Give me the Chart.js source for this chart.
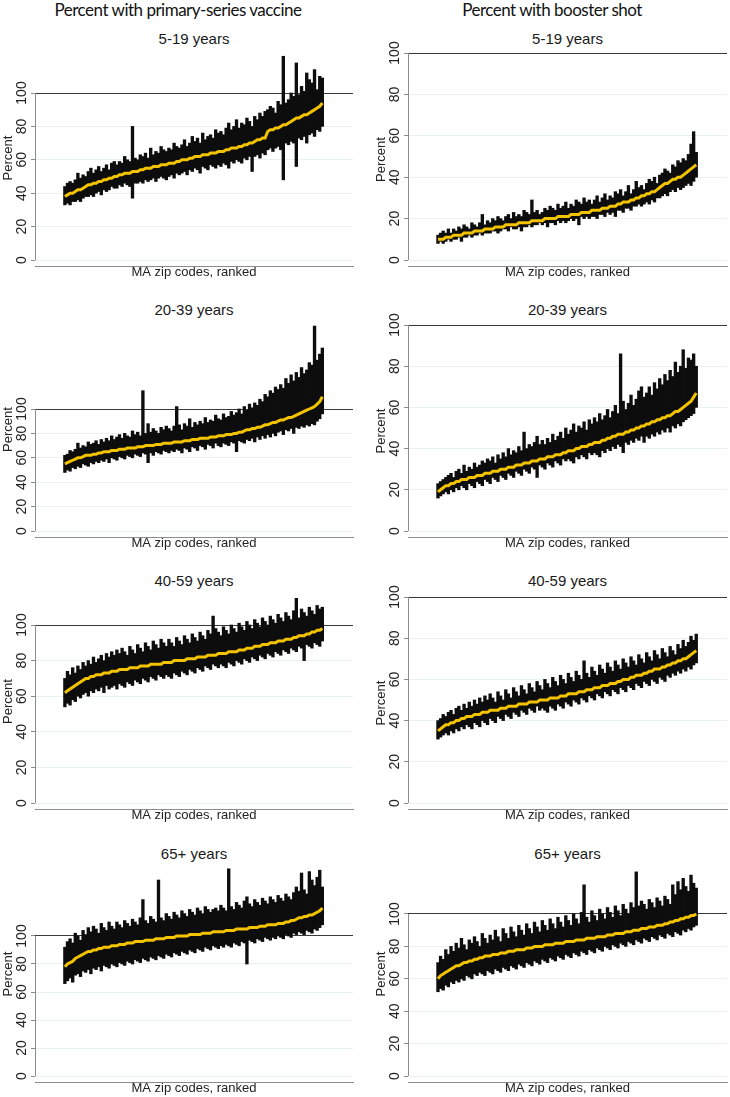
<!DOCTYPE html>
<html lang="en">
<head>
<meta charset="UTF-8" />
<title>MA zip code vaccination, ranked</title>
<script src="https://cdn.jsdelivr.net/npm/chart.js"></script>
<style>
  body { margin: 0; background: #fff; font-family: Arial, "Liberation Sans", Helvetica, sans-serif; }
  #page { position: relative; width: 730px; height: 1097px; overflow: hidden; }
  .colhead { position: absolute; top: 0; text-align: center; font-family: Lato, sans-serif; font-size: 17px; letter-spacing: -0.5px; line-height: 20px; color: #111; white-space: nowrap; }
  .ptitle { position: absolute; font-size: 15px; color: #1a1a1a; transform: translate(-50%, -50%); white-space: nowrap; }
  .panel { position: absolute; }
</style>
</head>
<body>
<div id="page">
  <div class="colhead" style="left:0;width:356px">Percent with primary-series vaccine</div>
  <div class="colhead" style="left:365px;width:374px">Percent with booster shot</div>
</div>
<script>
const ageGroups = ['5-19 years', '20-39 years', '40-59 years', '65+ years'];
const yTicks = [0, 20, 40, 60, 80, 100];

// primary series, 5-19
const p519Est = [38,39,40,40,41,42,42,43,44,45,45,46,46,47,47,48,48,49,49,50,
  50,51,51,52,52,52,53,53,53,54,54,55,55,55,56,56,56,57,57,57,
  58,58,58,59,59,60,60,60,61,61,62,62,62,63,63,63,64,64,64,65,
  65,65,66,66,67,67,67,68,68,69,69,70,70,71,72,72,73,73,77,78,
  78,79,79,80,81,81,82,83,84,85,85,86,87,87,88,89,90,91,92,94];
const p519Lo = [33,34,33,35,35,36,35,37,38,38,39,38,40,41,39,42,41,42,44,43,
  43,45,44,46,45,44,37,46,46,47,46,48,47,48,49,47,49,50,49,48,
  50,51,49,52,51,52,53,51,54,53,55,54,52,56,55,54,57,56,55,57,
  56,58,57,55,59,58,60,59,58,61,60,62,53,62,63,61,64,63,66,67,
  65,67,68,66,48,70,69,71,70,56,73,72,74,70,75,76,74,78,77,80];
const p519Hi = [44,46,47,46,48,52,49,51,50,53,55,52,54,56,53,55,57,54,58,59,
  57,59,58,62,60,59,80,61,60,63,62,64,61,67,63,65,64,68,66,65,
  67,66,70,68,67,69,72,68,70,74,71,73,70,76,72,74,75,73,78,76,
  77,75,79,82,78,80,84,79,82,81,85,83,80,86,84,88,86,89,90,92,
  91,88,95,93,122,94,96,100,98,118,99,104,101,112,108,106,114,102,110,109];

// booster, 5-19
const b519Est = [10,10,10,11,11,11,12,12,12,12,13,13,13,13,14,14,14,14,15,15,
  15,15,16,16,16,16,17,17,17,17,17,18,18,18,18,18,19,19,19,19,
  19,20,20,20,20,20,21,21,21,21,21,22,22,22,22,23,23,23,23,24,
  24,24,24,25,25,25,26,26,26,27,27,28,28,28,29,29,30,30,31,31,
  32,32,33,33,34,35,36,37,37,38,39,39,40,40,41,42,43,44,45,46];
const b519Lo = [8,9,8,9,10,9,10,10,11,9,11,11,12,11,12,12,13,12,13,13,
  13,14,14,13,14,15,15,14,16,15,15,16,14,16,16,17,16,17,17,18,
  17,18,16,18,18,17,19,18,19,18,19,20,19,20,17,21,20,21,20,21,
  21,20,22,22,21,23,22,23,21,24,24,23,25,25,24,26,26,27,26,27,
  28,27,29,28,30,30,31,32,31,33,34,33,35,34,35,36,37,36,38,40];
const b519Hi = [12,13,14,13,15,13,15,14,16,15,17,16,15,18,17,16,18,22,17,19,
  18,20,19,21,20,19,21,22,20,23,21,22,21,24,23,22,29,23,24,22,
  23,25,24,26,25,24,27,25,26,28,25,27,26,29,28,27,30,28,29,27,
  29,31,28,30,32,29,31,30,33,32,34,31,33,36,32,34,38,35,36,34,
  37,39,38,40,37,41,42,44,43,42,46,45,48,47,49,48,51,56,62,52];

// primary series, 20-39
const p2039Est = [55,56,57,58,59,60,60,61,62,62,62,63,63,64,64,65,65,65,66,66,
  66,67,67,67,68,68,68,68,69,69,69,70,70,70,70,71,71,71,72,72,
  72,72,73,73,73,73,74,74,74,75,75,75,76,76,76,76,77,77,77,78,
  78,78,79,79,79,80,80,81,81,82,83,83,84,84,85,85,86,87,87,88,
  89,89,90,91,91,92,93,93,94,95,96,97,98,99,100,101,102,104,106,110];
const p2039Lo = [48,50,49,52,51,53,52,55,54,53,56,55,57,56,58,57,59,56,60,59,
  58,61,60,59,62,61,60,63,62,61,64,63,56,64,62,65,64,63,66,65,
  64,66,65,67,66,64,68,67,65,69,68,66,70,69,67,71,70,68,72,70,
  69,72,71,70,73,72,65,74,73,72,75,74,76,73,77,75,78,76,79,77,
  80,78,81,82,79,83,82,84,80,85,84,86,85,87,86,88,87,90,92,96];
const p2039Hi = [62,63,66,65,67,72,68,70,69,73,71,72,74,71,75,73,76,74,78,75,
  77,79,76,80,78,77,82,79,81,78,115,80,88,81,84,82,80,85,83,86,
  84,82,86,102,87,83,88,86,92,85,89,87,90,88,93,89,91,90,95,92,
  91,96,93,94,98,95,97,100,96,102,99,104,101,105,103,108,106,112,110,115,
  113,118,116,120,117,125,121,128,123,130,126,134,129,132,138,136,168,140,145,150];

// booster, 20-39
const b2039Est = [19,20,21,22,22,23,23,24,24,25,25,25,26,26,26,27,27,27,28,28,
  28,29,29,29,30,30,30,31,31,31,32,32,32,33,33,33,34,34,34,35,
  35,35,36,36,36,37,37,37,38,38,39,39,39,40,40,41,41,41,42,42,
  43,43,43,44,44,45,45,46,46,47,47,47,48,48,49,49,50,50,51,51,
  52,52,53,53,54,54,55,55,56,56,57,58,58,59,60,61,62,63,65,67];
const b2039Lo = [16,17,18,19,18,20,19,21,20,22,21,20,23,22,21,24,23,22,25,24,
  23,26,25,24,27,26,25,28,27,26,29,28,27,30,29,28,31,30,26,32,
  31,30,33,32,31,34,33,32,35,34,35,34,33,36,35,37,36,35,38,37,
  38,37,36,39,38,40,39,41,40,42,41,38,43,42,44,43,45,44,46,43,
  46,45,47,46,48,47,49,48,50,48,51,50,52,51,53,54,55,56,57,60];
const b2039Hi = [23,24,25,26,27,28,26,29,30,28,32,29,31,30,33,31,32,34,33,35,
  34,36,33,37,35,38,36,40,37,39,38,41,39,48,40,42,41,43,46,42,
  44,42,45,43,47,44,46,48,45,50,47,49,52,48,51,50,53,49,54,52,
  55,53,57,54,56,59,55,58,61,57,86,63,59,62,66,61,64,68,70,65,
  67,70,66,72,69,74,71,76,73,78,75,82,77,80,88,79,84,83,86,80];

// primary series, 40-59
const p4059Est = [62,63,64,65,66,67,68,69,70,70,71,71,72,72,72,73,73,73,74,74,
  74,75,75,75,75,76,76,76,76,77,77,77,77,78,78,78,78,78,79,79,
  79,79,80,80,80,80,80,81,81,81,81,82,82,82,82,83,83,83,83,84,
  84,84,84,85,85,85,85,86,86,86,87,87,87,88,88,88,89,89,89,90,
  90,90,91,91,91,92,92,92,93,93,94,94,94,95,95,96,96,97,97,98];
const p4059Lo = [54,56,55,58,57,60,59,61,62,60,63,62,64,63,65,62,66,64,65,66,
  64,67,66,65,68,67,66,69,68,67,70,69,68,71,70,69,72,71,70,72,
  71,70,73,72,71,74,73,72,75,74,73,76,75,74,77,76,75,78,77,76,
  78,77,76,79,78,77,80,79,78,81,80,79,82,81,80,83,82,81,84,83,
  82,85,84,83,86,85,84,87,86,85,88,87,80,89,88,87,90,89,88,91];
const p4059Hi = [70,74,72,76,73,77,75,79,77,80,78,82,79,81,83,80,84,82,85,83,
  86,84,87,85,83,88,86,84,89,87,85,90,88,86,91,89,87,92,90,88,
  92,90,88,93,91,89,94,92,90,95,93,91,96,94,92,97,95,105,98,96,
  94,99,97,95,100,98,96,101,99,97,102,100,98,103,101,99,104,102,100,105,
  103,101,106,104,102,107,105,103,108,115,104,109,107,105,110,108,106,111,109,110];

// booster, 40-59
const b4059Est = [35,36,37,38,38,39,39,40,40,41,41,42,42,42,43,43,43,44,44,44,
  45,45,45,45,46,46,46,47,47,47,47,48,48,48,48,49,49,49,49,50,
  50,50,50,51,51,51,51,52,52,52,53,53,53,53,54,54,54,55,55,55,
  56,56,56,57,57,57,58,58,58,59,59,60,60,60,61,61,62,62,62,63,
  63,64,64,65,65,65,66,66,67,67,68,68,69,69,70,70,71,72,73,74];
const b4059Lo = [31,32,33,34,33,35,34,36,35,37,36,38,37,36,39,38,37,40,39,38,
  41,40,39,42,41,40,43,42,41,44,43,42,45,44,43,46,45,44,47,45,
  46,45,44,47,46,45,48,47,46,49,48,47,50,49,48,51,50,49,52,51,
  50,53,52,51,54,53,52,55,54,53,56,55,54,57,56,55,58,57,56,59,
  58,57,60,59,58,61,60,59,62,61,63,62,64,63,65,64,66,65,67,68];
const b4059Hi = [40,41,43,42,44,45,43,46,47,45,48,46,49,47,50,48,51,49,52,50,
  53,51,49,54,52,50,55,53,51,56,54,52,57,55,53,58,56,54,59,57,
  55,60,58,56,61,59,57,62,60,58,63,61,59,64,62,60,69,63,61,66,
  64,62,67,65,63,68,66,64,69,67,65,70,68,66,71,69,67,72,70,68,
  73,71,69,74,72,70,75,73,71,76,74,72,77,75,79,76,78,81,79,82];

// primary series, 65+
const p65Est = [78,80,81,82,84,85,86,87,88,89,89,90,90,91,91,92,92,92,93,93,
  93,94,94,94,95,95,95,96,96,96,96,97,97,97,97,98,98,98,98,99,
  99,99,99,100,100,100,100,100,101,101,101,101,101,102,102,102,102,103,103,103,
  103,103,104,104,104,104,105,105,105,105,105,106,106,106,106,107,107,107,108,108,
  108,108,109,109,109,110,110,111,111,112,113,113,114,114,115,115,116,117,118,120];
const p65Lo = [66,68,70,67,72,73,71,75,74,76,73,77,76,78,75,79,78,77,80,79,
  78,81,80,79,82,81,80,83,82,81,84,83,82,85,84,83,86,85,84,87,
  86,85,88,87,86,89,88,87,90,89,88,91,90,89,92,91,90,93,92,91,
  93,92,94,93,92,95,94,93,96,95,80,97,96,95,98,97,96,99,98,97,
  99,98,100,99,98,101,100,99,102,101,103,102,101,104,103,102,105,104,106,108];
const p65Hi = [92,96,98,95,102,100,97,104,101,106,103,107,105,102,109,106,104,110,107,105,
  110,108,106,111,109,107,112,110,108,113,126,111,109,114,112,110,140,113,111,116,
  114,112,117,115,113,118,116,114,119,117,115,120,118,116,121,119,117,119,120,118,
  122,120,118,148,121,119,124,122,120,125,128,123,121,126,124,122,127,125,123,128,
  126,124,129,127,125,130,128,126,131,135,132,145,133,130,146,140,136,142,147,135];

// booster, 65+
const b65Est = [60,62,63,64,65,66,67,68,68,69,70,70,71,71,72,72,73,73,74,74,
  74,75,75,75,76,76,76,77,77,77,78,78,78,78,79,79,79,80,80,80,
  80,81,81,81,81,82,82,82,82,83,83,83,83,84,84,84,84,85,85,85,
  85,86,86,86,86,87,87,87,88,88,88,88,89,89,89,90,90,90,91,91,
  91,92,92,92,93,93,93,94,94,95,95,96,96,97,97,98,98,99,99,100];
const b65Lo = [52,54,53,56,55,58,57,59,58,60,59,62,61,60,63,62,64,63,62,65,
  64,63,66,65,64,67,66,65,68,67,66,69,68,67,70,69,68,71,70,69,
  72,71,70,73,72,71,74,73,72,75,74,73,76,75,74,77,76,75,78,77,
  76,79,78,77,80,79,78,81,80,79,82,81,80,83,82,81,84,83,82,85,
  84,83,86,85,84,87,86,85,88,87,86,89,88,87,90,89,91,90,92,93];
const b65Hi = [70,74,72,78,75,80,77,82,79,85,81,78,84,82,86,83,80,88,85,82,
  87,84,90,86,83,91,88,85,92,89,86,93,90,87,94,91,88,95,92,89,
  96,93,90,97,94,91,98,95,92,99,96,93,100,97,94,101,118,98,95,102,
  99,96,103,100,97,104,101,98,105,102,99,106,103,100,107,104,126,105,108,106,
  103,109,107,104,110,108,105,111,109,106,118,112,120,115,122,117,114,124,119,116];

// panel geometry in page pixels: where 0 and 100 sit, plot top, x-axis line
const panels = [
  { title: ageGroups[0], est: p519Est, lo: p519Lo, hi: p519Hi, col: 0, y0: 260, y100: 93, top: 50, bottom: 266, titleY: 38 },
  { title: ageGroups[0], est: b519Est, lo: b519Lo, hi: b519Hi, col: 1, y0: 260, y100: 53, top: 53, bottom: 266, titleY: 38 },
  { title: ageGroups[1], est: p2039Est, lo: p2039Lo, hi: p2039Hi, col: 0, y0: 531, y100: 409, top: 322, bottom: 537, titleY: 309 },
  { title: ageGroups[1], est: b2039Est, lo: b2039Lo, hi: b2039Hi, col: 1, y0: 531, y100: 325, top: 325, bottom: 537, titleY: 309 },
  { title: ageGroups[2], est: p4059Est, lo: p4059Lo, hi: p4059Hi, col: 0, y0: 803, y100: 625, top: 594, bottom: 809, titleY: 580 },
  { title: ageGroups[2], est: b4059Est, lo: b4059Lo, hi: b4059Hi, col: 1, y0: 803, y100: 597, top: 597, bottom: 809, titleY: 580 },
  { title: ageGroups[3], est: p65Est, lo: p65Lo, hi: p65Hi, col: 0, y0: 1076, y100: 936, top: 866, bottom: 1082, titleY: 853 },
  { title: ageGroups[3], est: b65Est, lo: b65Lo, hi: b65Hi, col: 1, y0: 1076, y100: 914, top: 866, bottom: 1082, titleY: 853 }
];
const cols = [
  { left: 0, width: 365, axisW: 35, padRight: 12, titlePad: 1 },
  { left: 365, width: 365, axisW: 43, padRight: 3, titlePad: 9 }
];
const PAD_TOP = 14;

const FONT = 'Arial, "Liberation Sans", Helvetica, sans-serif';

// y axis drawn Stata-style: line only from 0 to 100, labels turned upright
const stataAxis = {
  id: 'stataAxis',
  afterDraw(chart) {
    const y = chart.scales.y, area = chart.chartArea, ctx = chart.ctx;
    ctx.save();
    ctx.strokeStyle = '#8c8c8c';
    ctx.lineWidth = 1;
    ctx.beginPath();
    ctx.moveTo(area.left + 0.5, y.getPixelForValue(0));
    ctx.lineTo(area.left + 0.5, y.getPixelForValue(100));
    ctx.stroke();
    ctx.fillStyle = '#222';
    ctx.font = '14px ' + FONT;
    ctx.textAlign = 'center';
    ctx.textBaseline = 'middle';
    y.ticks.forEach(t => {
      ctx.save();
      ctx.translate(area.left - 13, y.getPixelForValue(t.value));
      ctx.rotate(-Math.PI / 2);
      ctx.fillText(String(t.value), 0, 0);
      ctx.restore();
    });
    ctx.restore();
  }
};

const page = document.getElementById('page');

panels.forEach(p => {
  const c = cols[p.col];
  const ppu = (p.y0 - p.y100) / 100;
  const yMin = -(p.bottom - p.y0) / ppu;
  const yMax = (p.y0 - p.top) / ppu;
  const h = p.bottom - p.top + 14 + PAD_TOP;

  const t = document.createElement('div');
  t.className = 'ptitle';
  t.textContent = p.title;
  t.style.left = (c.left + c.axisW + (c.width - c.axisW - c.padRight) / 2) + 'px';
  t.style.top = p.titleY + 'px';
  page.appendChild(t);

  const wrap = document.createElement('div');
  wrap.className = 'panel';
  wrap.style.left = c.left + 'px';
  wrap.style.top = (p.top - PAD_TOP) + 'px';
  const cv = document.createElement('canvas');
  cv.width = c.width;
  cv.height = h;
  wrap.appendChild(cv);
  page.appendChild(wrap);

  new Chart(cv, {
    type: 'bar',
    data: {
      datasets: [
        {
          type: 'line',
          data: p.est.map((v, i) => ({ x: i, y: v })),
          borderColor: '#f3c300',
          borderWidth: 3,
          pointRadius: 0,
          tension: 0,
          order: 0
        },
        {
          type: 'bar',
          data: p.lo.map((v, i) => ({ x: i, y: [v, p.hi[i]] })),
          backgroundColor: '#0d0d0d',
          borderWidth: 0,
          barThickness: 2.7,
          order: 1
        }
      ]
    },
    options: {
      responsive: false,
      animation: false,
      events: [],
      layout: { padding: { left: 0, right: c.padRight, top: PAD_TOP, bottom: 0 } },
      plugins: { legend: { display: false }, tooltip: { enabled: false } },
      scales: {
        x: {
          type: 'linear',
          min: -1.3,
          max: 100.6,
          ticks: { display: false },
          grid: { display: false },
          border: { display: true, color: '#8c8c8c', width: 1 },
          title: { display: true, text: 'MA zip codes, ranked', color: '#222', font: { family: FONT, size: 13 }, padding: 0 },
          afterFit: s => { s.height = 14; }
        },
        y: {
          min: yMin,
          max: yMax,
          afterBuildTicks: s => { s.ticks = yTicks.map(v => ({ value: v })); },
          ticks: { display: false },
          border: { display: false },
          grid: {
            color: ctx => ctx.tick && ctx.tick.value === 100 ? '#3a3a3a' : '#e9f1f3',
            tickColor: '#8c8c8c',
            tickLength: 4,
            drawTicks: true
          },
          title: { display: true, text: 'Percent', color: '#222', font: { family: FONT, size: 13 }, padding: { top: c.titlePad, bottom: 0 } },
          afterFit: s => { s.width = c.axisW; }
        }
      }
    },
    plugins: [stataAxis]
  });
});
</script>
</body>
</html>
